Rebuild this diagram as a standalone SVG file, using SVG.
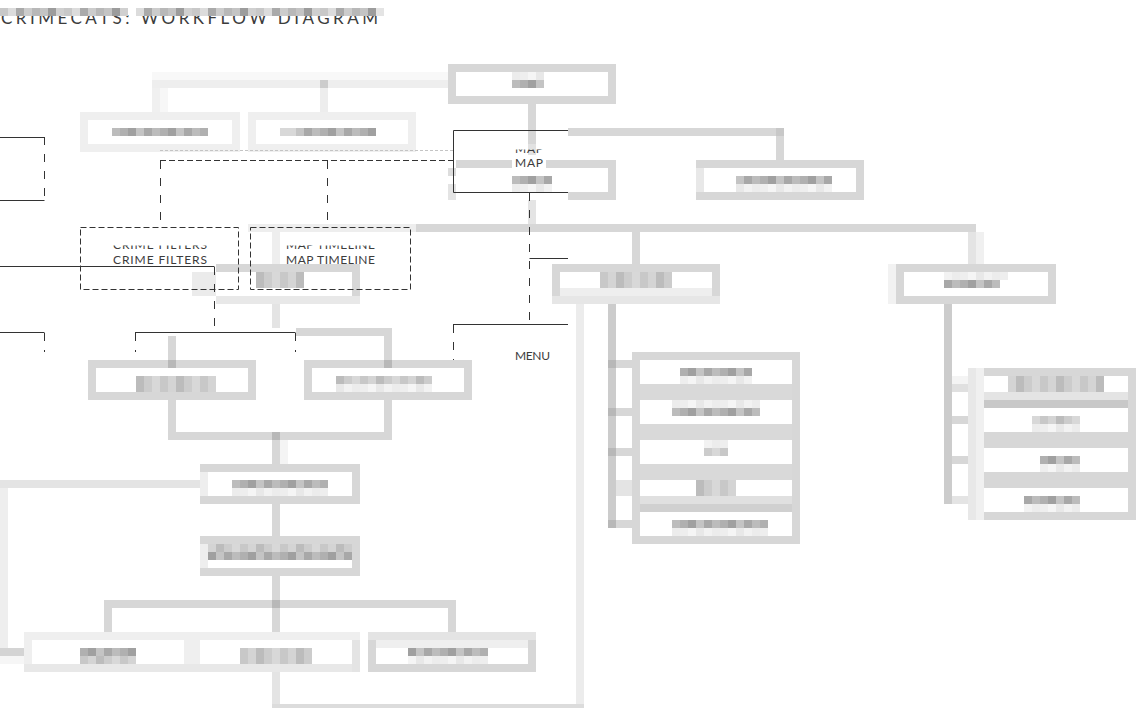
<svg xmlns="http://www.w3.org/2000/svg" width="1136" height="708" viewBox="0 0 1136 708">
<style>
.c{fill:#d7d7d7}.cl{fill:#e4e4e4}.cf{fill:#eeeeee}.cj{fill:#b8b8b8}
.bx{fill:none;stroke:#d7d7d7;stroke-width:8}
.bxf{fill:none;stroke:#efefef;stroke-width:8}
.k{stroke:#333;stroke-width:1;fill:none}
.kd{stroke:#333;stroke-width:1;fill:none;stroke-dasharray:6 3}
.kv{stroke:#333;stroke-width:1;fill:none;stroke-dasharray:8 9}
.t{font-family:Lato,"Liberation Sans",sans-serif;font-weight:400;fill:#3c3c3c}
</style>
<defs>
<pattern id="pd" patternUnits="userSpaceOnUse" width="40" height="8"><rect width="8" height="8" fill="#b0b0b0"/><rect x="8" width="8" height="8" fill="#a0a0a0"/><rect x="16" width="8" height="8" fill="#c4c4c4"/><rect x="24" width="8" height="8" fill="#a8a8a8"/><rect x="32" width="8" height="8" fill="#bcbcbc"/></pattern>
<pattern id="pm" patternUnits="userSpaceOnUse" width="40" height="8"><rect width="8" height="8" fill="#c8c8c8"/><rect x="8" width="8" height="8" fill="#d4d4d4"/><rect x="16" width="8" height="8" fill="#bcbcbc"/><rect x="24" width="8" height="8" fill="#cccccc"/><rect x="32" width="8" height="8" fill="#d8d8d8"/></pattern>
<pattern id="pl" patternUnits="userSpaceOnUse" width="40" height="8"><rect width="8" height="8" fill="#eeeeee"/><rect x="8" width="8" height="8" fill="#f5f5f5"/><rect x="16" width="8" height="8" fill="#e8e8e8"/><rect x="24" width="8" height="8" fill="#f2f2f2"/><rect x="32" width="8" height="8" fill="#ececec"/></pattern>
<pattern id="pt" patternUnits="userSpaceOnUse" width="64" height="8"><rect width="8" height="8" fill="#c8c8c8"/><rect x="8" width="8" height="8" fill="#dcdcdc"/><rect x="16" width="8" height="8" fill="#aaaaaa"/><rect x="24" width="8" height="8" fill="#cccccc"/><rect x="32" width="8" height="8" fill="#b8b8b8"/><rect x="40" width="8" height="8" fill="#c4c4c4"/><rect x="48" width="8" height="8" fill="#9c9c9c"/><rect x="56" width="8" height="8" fill="#d0d0d0"/></pattern>
<clipPath id="clipCopy"><rect x="0" y="245.5" width="568" height="4"/></clipPath>
<clipPath id="clipMap"><rect x="500" y="149.5" width="60" height="4"/></clipPath>
</defs>
<rect width="1136" height="708" fill="#ffffff"/>

<g id="title">
<text class="t" x="1" y="24" font-size="17" font-weight="300" textLength="377" lengthAdjust="spacing" fill="#444">CRIMECATS: WORKFLOW DIAGRAM</text>
<rect x="0" y="8" width="128" height="8" fill="url(#pt)"/>
<rect x="136" y="8" width="248" height="8" fill="url(#pt)"/>
<rect x="376" y="8" width="8" height="8" fill="#e4e4e4"/>
</g>

<g id="connectors">
<rect x="152" y="72" width="296" height="8" fill="#f8f8f8"/>
<rect x="152" y="80" width="296" height="8" fill="#eeeeee"/>
<rect x="152" y="88" width="8" height="24" fill="#f0f0f0"/>
<rect x="160" y="88" width="8" height="24" fill="#f7f7f7"/>
<rect x="320" y="88" width="8" height="24" fill="#ededed"/>
<rect x="320" y="80" width="8" height="8" fill="#cccccc"/>
<rect class="c" x="528" y="104" width="8" height="40"/>
<rect x="528" y="144" width="8" height="16" fill="#e2e2e2"/>
<rect class="c" x="568" y="128" width="216" height="8"/>
<rect class="c" x="776" y="136" width="8" height="24"/>
<rect x="776" y="128" width="8" height="8" fill="#c8c8c8"/>
<rect class="cl" x="528" y="200" width="8" height="24"/>
<rect class="cf" x="248" y="224" width="168" height="8"/>
<rect class="c" x="416" y="224" width="560" height="8"/>
<rect class="c" x="632" y="232" width="8" height="32"/>
<rect class="cl" x="968" y="232" width="8" height="32"/>
<rect x="976" y="232" width="8" height="32" fill="#f0f0f0"/>
<rect x="608" y="304" width="8" height="224" fill="#cccccc"/>
<rect class="c" x="616" y="360" width="16" height="8"/>
<rect class="c" x="616" y="408" width="16" height="8"/>
<rect class="c" x="616" y="448" width="16" height="8"/>
<rect class="cl" x="616" y="480" width="16" height="16"/>
<rect class="c" x="616" y="520" width="16" height="8"/>
<rect class="cj" x="608" y="360" width="8" height="8"/>
<rect class="cj" x="608" y="408" width="8" height="8"/>
<rect class="cj" x="608" y="448" width="8" height="8"/>
<rect class="cj" x="608" y="520" width="8" height="8"/>
<rect class="cj" x="608" y="296" width="8" height="8"/>
<rect x="576" y="304" width="8" height="404" fill="#ececec"/>
<rect x="272" y="704" width="312" height="4" fill="#dcdcdc"/>
<rect x="944" y="304" width="8" height="200" fill="#cccccc"/>
<rect x="952" y="376" width="16" height="8" fill="#f4f4f4"/>
<rect x="952" y="384" width="16" height="8" fill="#e0e0e0"/>
<rect class="c" x="952" y="416" width="16" height="8"/>
<rect class="c" x="952" y="456" width="16" height="8"/>
<rect class="cl" x="952" y="496" width="16" height="8"/>
<rect class="cj" x="944" y="296" width="8" height="8"/>
<rect class="cf" x="272" y="232" width="8" height="32"/>
<rect class="cl" x="272" y="304" width="8" height="24"/>
<rect class="c" x="296" y="328" width="96" height="8"/>
<rect class="c" x="384" y="336" width="8" height="24"/>
<rect class="c" x="168" y="336" width="8" height="24"/>
<rect class="c" x="168" y="400" width="8" height="32"/>
<rect class="c" x="168" y="432" width="224" height="8"/>
<rect class="c" x="384" y="400" width="8" height="32"/>
<rect class="c" x="272" y="440" width="8" height="24"/>
<rect x="280" y="440" width="8" height="24" fill="#f4f4f4"/>
<rect class="cj" x="272" y="432" width="8" height="8"/>
<rect class="cl" x="0" y="480" width="200" height="8"/>
<rect class="cf" x="0" y="488" width="8" height="160"/>
<rect x="0" y="648" width="24" height="8" fill="#d4d4d4"/>
<rect x="0" y="656" width="24" height="8" fill="#f6f6f6"/>
<rect class="c" x="272" y="504" width="8" height="32"/>
<rect class="c" x="272" y="576" width="8" height="24"/>
<rect class="c" x="104" y="600" width="352" height="8"/>
<rect class="cj" x="272" y="600" width="8" height="8"/>
<rect class="c" x="104" y="608" width="8" height="24"/>
<rect class="c" x="272" y="608" width="8" height="24"/>
<rect class="c" x="448" y="608" width="8" height="24"/>
<rect class="cl" x="272" y="672" width="8" height="32"/>
</g>

<g id="node-start">
<rect class="bx" x="452" y="68" width="160" height="32"/>
<rect x="512" y="72" width="32" height="8" fill="url(#pl)"/>
<rect x="512" y="80" width="32" height="8" fill="url(#pd)"/>
</g>
<g id="node-b1">
<rect class="bxf" x="84" y="116" width="152" height="32"/>
<rect x="112" y="128" width="96" height="8" fill="url(#pd)"/>
</g>
<g id="node-b2">
<rect class="bxf" x="252" y="116" width="160" height="32"/>
<rect x="280" y="128" width="96" height="8" fill="url(#pd)"/>
<rect x="280" y="128" width="16" height="8" fill="#d8d8d8"/>
</g>
<g id="node-map-box">
<rect class="c" x="456" y="160" width="160" height="8"/>
<rect class="c" x="608" y="168" width="8" height="32"/>
<rect class="c" x="568" y="192" width="40" height="8"/>
<rect x="448" y="168" width="8" height="8" fill="#dddddd"/>
<rect x="448" y="184" width="8" height="16" fill="#e4e4e4"/>
<rect x="512" y="176" width="40" height="8" fill="url(#pd)"/>
<rect x="512" y="184" width="40" height="8" fill="url(#pl)"/>
</g>
<g id="node-r1">
<rect class="bx" x="700" y="164" width="160" height="32"/>
<rect x="696" y="168" width="8" height="24" fill="#e8e8e8"/>
<rect x="736" y="176" width="96" height="8" fill="url(#pd)"/>
<rect x="736" y="184" width="96" height="8" fill="url(#pl)"/>
</g>
<g id="node-m">
<rect class="bx" x="556" y="268" width="160" height="32"/>
<rect x="560" y="288" width="152" height="8" fill="#eeeeee"/>
<rect x="552" y="296" width="168" height="8" fill="#e6e6e6"/>
<rect x="600" y="272" width="72" height="16" fill="url(#pm)"/>
</g>
<g id="node-r2">
<rect class="bx" x="900" y="268" width="152" height="32"/>
<rect x="888" y="264" width="8" height="40" fill="#f2f2f2"/>
<rect x="944" y="272" width="64" height="8" fill="url(#pl)"/>
<rect x="944" y="280" width="56" height="8" fill="url(#pd)"/>
</g>
<g id="node-stack1">
<rect class="bx" x="636" y="356" width="160" height="184"/>
<rect x="640" y="384" width="152" height="16" fill="#d9d9d9"/>
<rect x="640" y="424" width="152" height="16" fill="#d9d9d9"/>
<rect x="640" y="464" width="152" height="16" fill="#d9d9d9"/>
<rect x="640" y="496" width="152" height="8" fill="#e0e0e0"/>
<rect x="640" y="504" width="152" height="8" fill="#d0d0d0"/>
<rect x="680" y="368" width="72" height="8" fill="url(#pd)"/>
<rect x="680" y="376" width="72" height="8" fill="url(#pl)"/>
<rect x="672" y="400" width="88" height="8" fill="url(#pl)"/>
<rect x="672" y="408" width="88" height="8" fill="url(#pd)"/>
<rect x="704" y="440" width="24" height="8" fill="url(#pl)"/>
<rect x="704" y="448" width="24" height="8" fill="url(#pm)"/>
<rect x="696" y="480" width="40" height="16" fill="url(#pm)"/>
<rect x="672" y="520" width="96" height="8" fill="url(#pd)"/>
<rect x="672" y="528" width="96" height="8" fill="url(#pl)"/>
</g>
<g id="node-stack2">
<rect class="c" x="984" y="368" width="152" height="8"/>
<rect class="c" x="1128" y="368" width="8" height="152"/>
<rect class="c" x="984" y="512" width="152" height="8"/>
<rect x="968" y="368" width="8" height="152" fill="#e8e8e8"/>
<rect x="976" y="368" width="8" height="152" fill="#f0f0f0"/>
<rect x="984" y="392" width="144" height="8" fill="#e4e4e4"/>
<rect x="984" y="400" width="144" height="8" fill="#c8c8c8"/>
<rect x="984" y="432" width="144" height="16" fill="#d7d7d7"/>
<rect x="984" y="472" width="144" height="16" fill="#d7d7d7"/>
<rect x="1008" y="376" width="96" height="16" fill="url(#pm)"/>
<rect x="1032" y="416" width="48" height="8" fill="url(#pm)"/>
<rect x="1032" y="424" width="48" height="8" fill="url(#pl)"/>
<rect x="1040" y="456" width="40" height="8" fill="url(#pd)"/>
<rect x="1040" y="464" width="40" height="8" fill="url(#pl)"/>
<rect x="1024" y="496" width="56" height="8" fill="url(#pd)"/>
<rect x="1024" y="504" width="56" height="8" fill="url(#pl)"/>
</g>
<g id="node-hidden">
<rect x="192" y="272" width="24" height="24" fill="#ebebeb"/>
<rect class="c" x="216" y="264" width="144" height="8"/>
<rect class="c" x="352" y="272" width="8" height="24"/>
<rect x="216" y="296" width="144" height="8" fill="#e8e8e8"/>
<rect x="256" y="272" width="48" height="16" fill="url(#pm)"/>
</g>
<g id="node-l">
<rect class="bx" x="92" y="364" width="160" height="32"/>
<rect class="cj" x="168" y="360" width="8" height="8"/>
<rect x="136" y="376" width="80" height="16" fill="url(#pm)"/>
</g>
<g id="node-r">
<rect class="bx" x="308" y="364" width="160" height="32"/>
<rect class="cj" x="384" y="360" width="8" height="8"/>
<rect x="336" y="376" width="96" height="8" fill="url(#pm)"/>
<rect x="336" y="384" width="96" height="8" fill="url(#pl)"/>
</g>
<g id="node-a">
<rect class="bx" x="204" y="468" width="152" height="32"/>
<rect x="200" y="472" width="8" height="24" fill="#eeeeee"/>
<rect x="232" y="480" width="96" height="8" fill="url(#pd)"/>
<rect x="232" y="488" width="96" height="8" fill="url(#pl)"/>
</g>
<g id="node-b">
<rect class="bx" x="204" y="540" width="152" height="32"/>
<rect x="200" y="544" width="8" height="24" fill="#eeeeee"/>
<rect x="208" y="544" width="144" height="8" fill="url(#pm)"/>
<rect x="208" y="552" width="144" height="8" fill="url(#pd)"/>
</g>
<g id="node-c1">
<rect class="bxf" x="28" y="636" width="160" height="32"/>
<rect x="24" y="664" width="168" height="8" fill="#e8e8e8"/>
<rect x="80" y="648" width="56" height="8" fill="url(#pd)"/>
<rect x="80" y="656" width="56" height="8" fill="url(#pm)"/>
</g>
<g id="node-c2">
<rect class="bxf" x="196" y="636" width="160" height="32"/>
<rect x="192" y="664" width="168" height="8" fill="#e8e8e8"/>
<rect x="352" y="640" width="8" height="32" fill="#e4e4e4"/>
<rect x="240" y="648" width="72" height="16" fill="url(#pm)"/>
</g>
<g id="node-c3">
<rect class="bx" x="372" y="636" width="160" height="32"/>
<rect x="368" y="632" width="168" height="8" fill="#e4e4e4"/>
<rect x="376" y="640" width="152" height="8" fill="#efefef"/>
<rect x="408" y="648" width="80" height="8" fill="url(#pd)"/>
<rect x="408" y="656" width="80" height="8" fill="url(#pl)"/>
</g>

<g id="connectors-overlay">
<path class="k" d="M0 137.5H44.5M0 200.5H44.5"/>
<path class="kv" d="M44.5 137V200"/>
<path d="M160 150.5H453" stroke="#c4c4c4" stroke-width="1" stroke-dasharray="3 2" fill="none"/>
<path class="kd" d="M160 160.5H453"/>
<path class="kv" d="M160.5 161V227M327.5 161V227"/>
<path class="k" d="M0 266.5H214.5"/>
<path class="kv" d="M214.5 267V332"/>
<path class="k" d="M135 332.5H295.5M0 332.5H44.5"/>
<path class="kv" d="M135.5 333V352M295.5 333V352M44.5 333V352"/>
<path class="k" d="M568 130.5H453.5V192.5H568"/>
<path class="kv" d="M529.5 193V324"/>
<path class="k" d="M529.5 258.5H568M453 324.5H568"/>
<path class="kv" d="M453.5 325V360"/>
</g>

<g id="node-crime-filters">
<rect class="kd" x="80.5" y="227.5" width="158" height="62"/>
<text class="t" x="160" y="249" font-size="12" text-anchor="middle" textLength="94" lengthAdjust="spacing" clip-path="url(#clipCopy)">CRIME FILTERS</text>
<text class="t" x="160" y="264" font-size="12" text-anchor="middle" textLength="94" lengthAdjust="spacing">CRIME FILTERS</text>
</g>
<g id="node-map-timeline">
<rect class="kd" x="250.5" y="227.5" width="160" height="62"/>
<text class="t" x="330.5" y="249" font-size="12" text-anchor="middle" textLength="89" lengthAdjust="spacing" clip-path="url(#clipCopy)">MAP TIMELINE</text>
<text class="t" x="330.5" y="264" font-size="12" text-anchor="middle" textLength="89" lengthAdjust="spacing">MAP TIMELINE</text>
</g>
<g id="node-map">
<rect x="512" y="155" width="34" height="14" fill="#ffffff"/>
<text class="t" x="529" y="153" font-size="12" text-anchor="middle" textLength="28" lengthAdjust="spacing" clip-path="url(#clipMap)">MAP</text>
<text class="t" x="529" y="167" font-size="12" text-anchor="middle" textLength="28" lengthAdjust="spacing">MAP</text>
</g>
<g id="node-menu">
<text class="t" x="532.5" y="360" font-size="12" text-anchor="middle" textLength="35" lengthAdjust="spacing">MENU</text>
</g>
</svg>
